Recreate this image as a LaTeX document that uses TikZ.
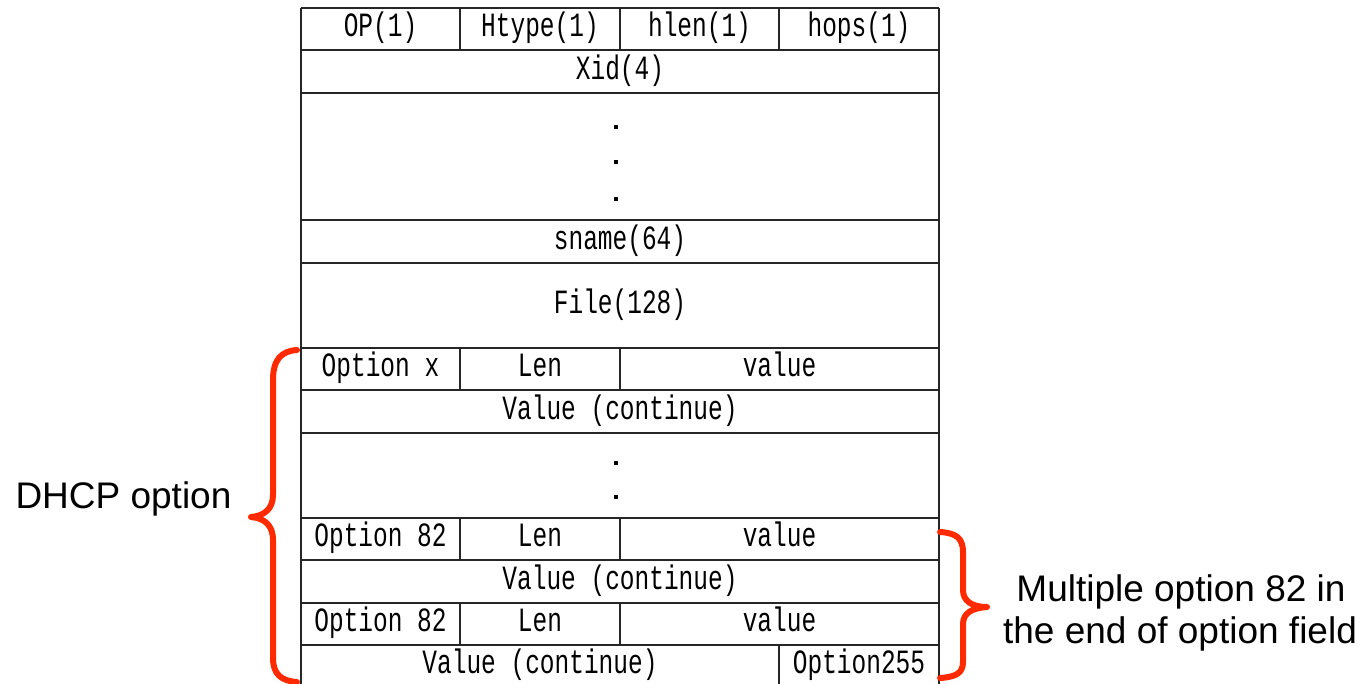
\documentclass[tikz,border=0pt]{standalone}
\usepackage{fontspec}
\setmainfont{Liberation Sans}
\newfontfamily\tblfont[FakeStretch=0.72]{Liberation Mono}
\begin{document}
\begin{tikzpicture}[x=1pt,y=-1pt,
  grid/.style={line width=1.5pt,draw=black!85},
  cell/.style={font=\tblfont\fontsize{34}{36}\selectfont,anchor=base,inner sep=0pt},
  dotmark/.style={fill=black,inner sep=0pt,minimum size=4pt,shape=rectangle},
  brace/.style={draw=bracered,line width=6pt,line cap=round,line join=round},
  label/.style={font=\fontsize{37}{42}\selectfont,anchor=base,inner sep=0pt}]
\definecolor{bracered}{HTML}{FF2A00}
\useasboundingbox (0,0) rectangle (1363,683);
\clip (0,0) rectangle (1363,683);

% horizontal rules of the packet layout
\foreach \y in {8,50,93,220,263,348,390,433,518,560,603,645}
  \draw[grid] (301,\y) -- (939,\y);
% outer frame sides (the last row runs past the lower edge)
\draw[grid] (301,8) -- (301,690);
\draw[grid] (939,8) -- (939,690);
% column dividers
\draw[grid] (460,8) -- (460,50);
\draw[grid] (620,8) -- (620,50);
\draw[grid] (779,8) -- (779,50);
\draw[grid] (460,348) -- (460,390);
\draw[grid] (620,348) -- (620,390);
\draw[grid] (460,518) -- (460,560);
\draw[grid] (620,518) -- (620,560);
\draw[grid] (460,603) -- (460,645);
\draw[grid] (620,603) -- (620,645);
\draw[grid] (779,645) -- (779,690);

% header fields
\node[cell] (op)    at (380.5,36.5) {OP(1)};
\node[cell] (htype) at (540,36.5)   {Htype(1)};
\node[cell] (hlen)  at (699.5,36.5) {hlen(1)};
\node[cell] (hops)  at (859,36.5)   {hops(1)};
\node[cell] (xid)   at (620,79)     {Xid(4)};
\node[dotmark] (d1) at (616,127) {};
\node[dotmark] (d2) at (616,162) {};
\node[dotmark] (d3) at (616,199) {};
\node[cell] (sname) at (620,249)    {sname(64)};
\node[cell] (file)  at (620,313)    {File(128)};

% option fields
\node[cell] (optx)  at (380.5,376.5) {Option x};
\node[cell] (lenx)  at (540,376.5)   {Len};
\node[cell] (valx)  at (779.5,376.5) {value};
\node[cell] (contx) at (620,419)     {Value (continue)};
\node[dotmark] (d4) at (616,463) {};
\node[dotmark] (d5) at (616,497) {};
\node[cell] (opta)  at (380.5,546.5) {Option 82};
\node[cell] (lena)  at (540,546.5)   {Len};
\node[cell] (vala)  at (779.5,546.5) {value};
\node[cell] (conta) at (620,589)     {Value (continue)};
\node[cell] (optb)  at (380.5,631.5) {Option 82};
\node[cell] (lenb)  at (540,631.5)   {Len};
\node[cell] (valb)  at (779.5,631.5) {value};
\node[cell] (contb) at (540,673)     {Value (continue)};
\node[cell] (opte)  at (859,673)     {Option255};

% braces
\draw[brace] (297,350) .. controls (281,351) and (273,360) .. (273,380)
  -- (273,495) .. controls (273,509) and (264,516) .. (251,517)
  .. controls (264,518) and (273,525) .. (273,540)
  -- (273,658) .. controls (273,674) and (281,681) .. (297,682);
\draw[brace] (940,532) .. controls (956,533) and (963,538) .. (963,552)
  -- (963,590) .. controls (963,601) and (972,607) .. (987,607)
  .. controls (972,608) and (963,613) .. (963,624)
  -- (963,662) .. controls (963,673) and (956,677) .. (940,678);

% annotations
\node[label] (dhcp)  at (123.5,508) {DHCP option};
\node[label] (multi) at (1181,601)  {Multiple option 82 in};
\node[label] (endof) at (1180,643)  {the end of option field};
\end{tikzpicture}
\end{document}
